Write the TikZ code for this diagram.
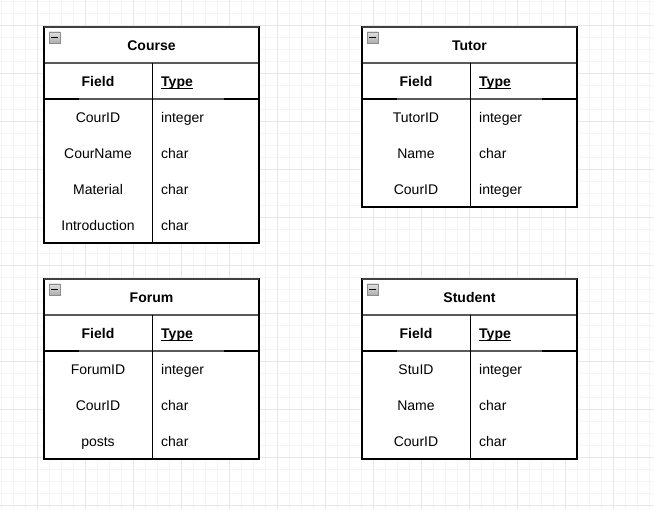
\documentclass[tikz,border=0pt]{standalone}
\usepackage{fontspec}
\setmainfont{Liberation Sans}
\begin{document}
\begin{tikzpicture}[x=1pt,y=-1pt,
  celltext/.style={inner sep=0pt,anchor=base,font=\fontsize{14}{16}\selectfont},
  celltextl/.style={celltext,anchor=base west},
  headtext/.style={celltext,font=\fontsize{14}{16}\selectfont\bfseries},
  headtextl/.style={headtext,anchor=base west},
  minorgrid/.style={draw=black!4,line width=0.8pt},
  majorgrid/.style={draw=black!9,line width=0.8pt},
  iconbox/.style={draw=black!45,top color=black!12,bottom color=black!32,line width=0.9pt},
  outline/.style={draw=black,line width=1.4pt},
  topline/.style={draw=black!75,line width=2pt},
  sepline/.style={draw=black!65,line width=1.6pt},
  colline/.style={draw=black,line width=1pt},
  uline/.style={draw=black,line width=1.2pt}
]
\useasboundingbox (0,0) rectangle (654,510);
\fill[white] (0,0) rectangle (654,510);
% grid
\foreach \gx in {1,13,...,653} \draw[minorgrid] (\gx,0) -- (\gx,510);
\foreach \gy in {1,13,...,509} \draw[minorgrid] (0,\gy) -- (654,\gy);
\foreach \gx in {37,85,...,653} \draw[majorgrid] (\gx,0) -- (\gx,510);
\foreach \gy in {25,73,...,509} \draw[majorgrid] (0,\gy) -- (654,\gy);

\newcommand\ertable[6]{%
  % #1 id, #2 left, #3 top, #4 title, #5 rows count, #6 rows
  \pgfmathsetmacro\erbot{#3+72+36*#5}
  \fill[white] (#2,#3) rectangle (#2+215,\erbot);
  \node[headtext] (#1-title) at (#2+107.5,#3+24) {#4};
  \node[headtext] (#1-field) at (#2+54,#3+60) {Field};
  \node[headtextl] (#1-type) at (#2+117,#3+60) {Type};
  \draw[uline] ([yshift=-1.6pt]#1-type.base west) -- ([yshift=-1.6pt]#1-type.base east);
  \foreach \f/\t [count=\i] in {#6} {
    \node[celltext] (#1-f\i) at (#2+54,#3+60+36*\i) {\f};
    \node[celltextl] (#1-t\i) at (#2+117,#3+60+36*\i) {\t};
  }
  % lines
  \draw[sepline] (#2,#3+36) -- (#2+215,#3+36);
  \draw[sepline] (#2,#3+72) -- (#2+215,#3+72);
  \draw[draw=black,line width=1.6pt] (#2,#3+72) -- (#2+35,#3+72);
  \draw[draw=black,line width=1.6pt] (#2+180,#3+72) -- (#2+215,#3+72);
  \draw[colline] (#2+108,#3+36) -- (#2+108,\erbot);
  \draw[outline] (#2,#3) rectangle (#2+215,\erbot);
  \draw[topline] (#2,#3) -- (#2+215,#3);
  % collapse icon
  \draw[iconbox] (#2+5,#3+5) rectangle (#2+16,#3+16);
  \draw[black,line width=1.2pt] (#2+7,#3+10.5) -- (#2+14,#3+10.5);
}

\ertable{course}{44}{27}{Course}{4}{CourID/integer,CourName/char,Material/char,Introduction/char}
\ertable{tutor}{362}{27}{Tutor}{3}{TutorID/integer,Name/char,CourID/integer}
\ertable{forum}{44}{279}{Forum}{3}{ForumID/integer,CourID/char,posts/char}
\ertable{student}{362}{279}{Student}{3}{StuID/integer,Name/char,CourID/char}
\end{tikzpicture}
\end{document}
